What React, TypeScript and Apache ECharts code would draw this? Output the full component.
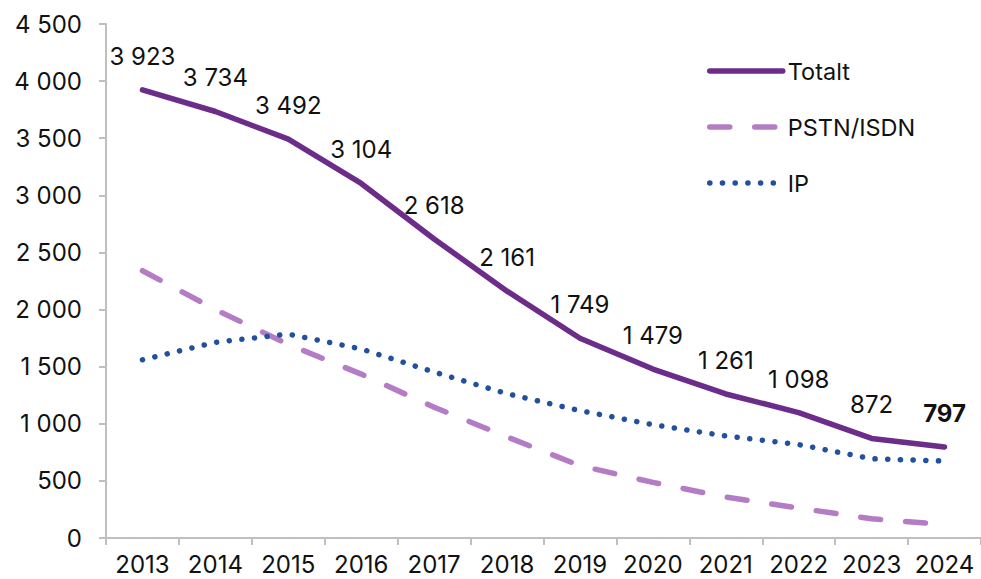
import React, { useEffect, useRef } from "react";
import * as echarts from "echarts";

const years = ["2013", "2014", "2015", "2016", "2017", "2018", "2019", "2020", "2021", "2022", "2023", "2024"];
const totalt = [3923, 3734, 3492, 3104, 2618, 2161, 1749, 1479, 1261, 1098, 872, 797];
const pstnIsdn = [2340, 2000, 1695, 1435, 1145, 885, 633, 487, 358, 262, 168, 118];
const ip = [1560, 1713, 1785, 1655, 1453, 1263, 1115, 992, 893, 818, 694, 674];
const seriesNames = ["Totalt", "PSTN/ISDN", "IP"];
const yMin = 0;
const yMax = 4500;
const yInterval = 500;

const FONT = "Inter, 'Liberation Sans', Arial, sans-serif";
const TEXT = "#111111";
const AXIS = "#bfbfbf";

const fmt = (v: number) => String(v).replace(/\B(?=(\d{3})+(?!\d))/g, " ");

export default function App() {
  const ref = useRef<HTMLDivElement>(null);
  useEffect(() => {
    if (!ref.current) return;
    const chart = echarts.init(ref.current, undefined, { renderer: "svg" });
    const last = totalt.length - 1;
    chart.setOption({
      animation: false,
      backgroundColor: "#ffffff",
      textStyle: { fontFamily: FONT },
      grid: { left: 106, right: 0, top: 24, bottom: 41, containLabel: false },
      legend: {
        data: seriesNames,
        orient: "vertical",
        left: 707,
        top: 59,
        padding: 0,
        itemWidth: 73,
        itemHeight: 14,
        itemGap: 32,
        itemStyle: { opacity: 0 },
        lineStyle: { width: 5.5 },
        textStyle: { fontSize: 23.5, color: TEXT, fontFamily: FONT },
        selectedMode: false,
      },
      xAxis: {
        type: "category",
        data: years,
        boundaryGap: true,
        axisLine: { show: true, lineStyle: { color: AXIS, width: 2 } },
        axisTick: { show: true, length: 7, lineStyle: { color: AXIS, width: 2 } },
        axisLabel: { fontSize: 24, lineHeight: 24, color: TEXT, margin: 14, fontFamily: FONT, interval: 0 },
        splitLine: { show: false },
      },
      yAxis: {
        type: "value",
        min: yMin,
        max: yMax,
        interval: yInterval,
        axisLine: { show: true, lineStyle: { color: AXIS, width: 2 } },
        axisTick: { show: true, length: 7, lineStyle: { color: AXIS, width: 2 } },
        axisLabel: { fontSize: 24, color: TEXT, margin: 24, fontFamily: FONT, formatter: (v: number) => fmt(v) },
        splitLine: { show: false },
      },
      series: [
        {
          name: seriesNames[0],
          type: "line",
          data: totalt.map((v, i) => (i === last ? { value: v, label: { fontWeight: "bold" } } : v)),
          symbol: "circle",
          symbolSize: 1,
          showSymbol: true,
          lineStyle: { color: "#6b2c8a", width: 5.5, cap: "round", join: "round" },
          itemStyle: { color: "rgba(107,44,138,0)" },
          label: {
            show: true,
            position: "top",
            distance: 21,
            fontSize: 24,
            color: TEXT,
            fontFamily: FONT,
            formatter: (p: any) => fmt(p.value),
          },
          z: 2,
        },
        {
          name: seriesNames[1],
          type: "line",
          data: pstnIsdn,
          symbol: "none",
          lineStyle: { color: "#b57cc6", width: 5.5, type: [20, 25], cap: "round", join: "round" },
          itemStyle: { color: "#b57cc6" },
          z: 2,
        },
        {
          name: seriesNames[2],
          type: "line",
          data: ip,
          symbol: "none",
          lineStyle: { color: "#20509e", width: 5.5, type: [0.1, 12.6], cap: "round", join: "round" },
          itemStyle: { color: "#20509e" },
          z: 2,
        },
      ],
    });
    return () => chart.dispose();
  }, []);
  return (
    <div
      ref={ref}
      style={{ position: "fixed", left: 0, top: 0, width: 981, height: 579, background: "#fff" }}
    />
  );
}
